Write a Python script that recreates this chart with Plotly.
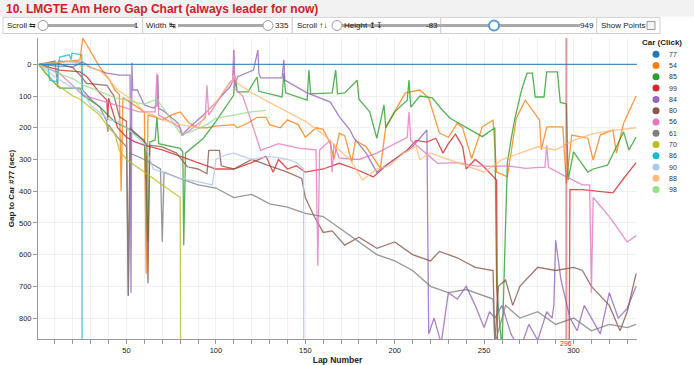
import plotly.graph_objects as go

# ---------------- data ----------------
cars = ["77", "54", "85", "99", "84", "80", "56", "61", "70", "86", "90", "88", "98"]
colors = ["#1f77b4", "#ff7f0e", "#2ca02c", "#d62728", "#9467bd", "#8c564b", "#e377c2",
          "#7f7f7f", "#bcbd22", "#17becf", "#aec7e8", "#ffbb78", "#98df8a"]

laps_77 = [1, 336]
gap_77 = [0, 0]

laps_54 = [1, 10, 20, 24, 25.5, 31, 35, 40.6, 43.5, 46, 47, 48, 55, 60, 61, 62, 65, 70, 75, 80, 85, 90, 95, 100, 110, 112, 118, 123, 128, 130, 136, 140, 146, 150, 156, 160, 164, 166, 169, 172, 176, 178, 184, 189, 192, 195, 200, 206, 214, 219, 225, 230, 235, 238, 243, 249, 255, 257, 263, 268, 273, 281, 282, 285, 294, 296, 299, 308, 311, 315, 322, 324, 328, 335]
gap_54 = [0, -5, -12, -14, -83, -30, 9, 50, 81, 95, 400, 105, 130, 150, 660, 160, 165, 175, 160, 150, 185, 200, 200, 195, 190, 200, 185, 167, 167, 190, 200, 175, 190, 230, 200, 205, 250, 300, 217, 225, 308, 240, 260, 300, 328, 197, 150, 90, 81, 106, 217, 230, 186, 200, 297, 197, 176, 340, 355, 170, 113, 176, 270, 197, 197, 375, 223, 233, 302, 223, 207, 280, 186, 100]

laps_85 = [1, 5, 12.6, 24, 25.5, 35, 43.5, 50, 55, 60, 62, 63, 66, 67, 68, 75, 80, 81.5, 82, 83, 93, 100, 110, 110.5, 112, 118, 123, 124, 137, 138, 139, 151, 152, 153, 165, 167, 168, 172, 179, 180, 186, 190, 194, 195, 200, 207, 208, 209, 214, 221, 226, 231, 240, 249, 256, 257, 260, 263, 265, 267, 271, 274, 277, 278.6, 283.5, 285, 291, 292.6, 296, 297, 300, 303, 308, 311, 319, 328, 331, 335]
gap_85 = [0, 30, 75, 75, 97, 134, 182, 200, 220, 239, 560, 245, 239, 167, 250, 260, 265, 276, 570, 280, 233, 180, 97, 34, 87, 87, 40, 85, 103, 28, 90, 113, 18, 93, 90, 18, 93, 90, 50, 110, 150, 233, 128, 200, 150, 113, 50, 135, 100, 106, 140, 170, 200, 228, 200, 700, 900, 310, 240, 176, 80, 28, 28, 103, 103, 24, 24, 120, 125, 365, 276, 300, 340, 330, 318, 213, 270, 229]

laps_99 = [1, 12.6, 24, 28, 35, 39, 39.5, 40, 45, 50, 55, 60, 70, 80, 90, 95, 100, 110, 120, 128, 132, 135, 140, 145, 150, 160, 169, 178, 188, 195, 207, 212, 218, 223, 227, 230, 234, 238, 240, 245, 249, 257, 258, 297, 298, 305, 315, 322, 328, 335]
gap_99 = [0, 18, 24, 40, 90, 113, 176, 107, 200, 230, 245, 255, 270, 290, 310, 320, 330, 330, 310, 290, 340, 300, 330, 320, 340, 330, 312, 330, 355, 320, 270, 240, 245, 233, 280, 250, 220, 260, 330, 300, 318, 365, 1500, 1500, 395, 395, 400, 405, 360, 310]

laps_84 = [1, 10, 20, 25.5, 30, 39, 46, 52, 52.5, 53, 53.5, 56, 60, 65, 67, 67.5, 68, 70, 79, 81, 85, 93, 100, 108, 109.5, 110, 110.5, 112, 121, 123.5, 124, 125, 137, 138, 138.5, 151, 164, 169, 175, 177, 184, 190, 192, 200, 210, 218, 219, 222, 226, 230, 235, 240, 245, 250, 253, 256, 260, 265, 270, 275, 280, 285, 288, 289, 290, 293, 298, 302, 306, 310, 315, 320, 325, 330, 335]
gap_84 = [0, 5, 8, -7, 10, 28, 34, 34, 720, -5, 81, 81, 128, 138, 130, 34, 140, 144, 186, 223, 200, 160, 120, 70, 50, -45, 73, 40, 18, -45, 28, 43, 43, -14, 50, 90, 119, 165, 207, 230, 280, 340, 330, 300, 260, 207, 850, 800, 880, 720, 740, 700, 760, 830, 780, 800, 760, 850, 900, 820, 870, 780, 800, 760, 554, 680, 800, 840, 760, 800, 850, 720, 800, 770, 700, 780]

laps_80 = [1, 10, 20, 24, 27.7, 33, 39, 43, 46, 50, 51, 52, 59, 61, 62, 63, 70, 78, 84, 90, 95, 96, 102, 103, 110, 120, 130, 140, 148, 150, 155, 160, 165, 172, 180, 190, 200, 210, 220, 225, 235, 245, 255, 256, 258, 262, 266, 270, 280, 290, 300, 305, 310, 315, 320, 326, 330, 335]
gap_80 = [5, -5, 10, 34, 60, 62, 66, 100, 165, 180, 730, 200, 239, 250, 690, 255, 260, 280, 323, 330, 345, 271, 271, 320, 330, 300, 320, 340, 360, 420, 480, 530, 525, 570, 545, 580, 560, 600, 620, 590, 610, 640, 650, 880, 700, 680, 760, 700, 640, 650, 640, 650, 700, 730, 760, 840, 780, 660]

laps_56 = [1, 12.6, 25.5, 33, 45, 57, 66, 67, 68, 80, 81.5, 85, 94, 95, 96, 108, 109.5, 110, 110.5, 115, 118, 125, 135, 147, 156, 157, 158, 164, 165, 166, 169, 180, 190, 200, 207, 208, 209, 224, 235, 245, 256, 263, 273, 281, 284, 285, 286, 296, 305, 309, 310, 311, 320, 330, 335]
gap_56 = [0, 28, 97, 110, 130, 150, 150, 28, 160, 200, 223, 210, 170, 66, 160, 55, 50, -45, 77, 100, 150, 271, 250, 265, 270, 635, 270, 239, 340, 250, 296, 300, 280, 250, 230, 150, 240, 312, 310, 320, 322, 320, 328, 325, 325, 255, 325, 355, 380, 380, 720, 420, 480, 560, 540]

laps_61 = [1, 5, 10, 11.5, 12, 24, 25, 25.5, 30, 35, 39, 39.5, 40, 45, 50, 51, 52, 60, 69, 70, 71, 80, 90, 100, 110, 120, 130, 140, 150, 160, 170, 180, 190, 200, 210, 220, 230, 240, 250, 255, 256, 262, 270, 280, 290, 300, 310, 320, 330, 335]
gap_61 = [0, -5, -10, 71, -10, -7, -7, 81, 110, 134, 181, 213, 190, 230, 260, 730, 280, 300, 330, 560, 340, 360, 380, 390, 420, 410, 440, 450, 470, 480, 520, 560, 600, 620, 650, 700, 720, 710, 730, 740, 880, 760, 800, 780, 820, 800, 840, 820, 830, 820]

laps_70 = [1, 10, 20, 24, 35, 40, 43.5, 46, 50, 55, 60, 65, 70, 75, 80, 81.5, 82]
gap_70 = [0, 60, 100, 110, 160, 200, 220, 271, 300, 320, 340, 360, 380, 400, 420, 3000, 3000]

laps_86 = [1, 6, 7, 11, 12.6, 18, 19, 19.5, 25, 25.5, 26]
gap_86 = [0, 0, 50, 55, -23, -30, -15, -35, -30, 3000, 3000]

laps_90 = [1, 10, 20, 25.5, 30, 40.6, 45, 50, 60, 65, 70, 80, 90, 98, 100, 106, 110, 115, 120, 130, 140, 145, 149, 149.5, 150]
gap_90 = [0, 40, 75, 83, 130, 176, 180, 200, 250, 330, 340, 360, 370, 380, 300, 285, 280, 290, 300, 290, 300, 310, 330, 3000, 3000]

laps_88 = [1, 10, 20, 25.5, 27, 29, 35, 39, 45, 50, 55, 60, 65, 70, 80, 90, 95, 100, 105, 109.5, 110, 112, 120, 130, 140, 150, 160, 169, 175, 182, 190, 197, 205, 212, 214, 220, 230, 240, 250, 260, 270, 280, 290, 300, 310, 320, 335]
gap_88 = [0, -5, -10, 10, 0, 10, 20, 40, 80, 100, 120, 150, 160, 175, 190, 200, 150, 120, 80, 50, 34, 60, 90, 120, 150, 180, 220, 271, 300, 365, 330, 320, 280, 260, 300, 280, 300, 320, 340, 300, 280, 260, 270, 240, 220, 210, 200]

laps_98 = [1, 10, 20, 25.5, 35, 43.5, 50, 55, 60, 67, 72, 80, 84, 91, 95, 100, 110, 120, 128]
gap_98 = [0, 25, 45, 65, 85, 106, 112, 120, 125, 110, 150, 217, 217, 200, 190, 170, 160, 150, 145]

series = {
    "77": (laps_77, gap_77), "54": (laps_54, gap_54), "85": (laps_85, gap_85),
    "99": (laps_99, gap_99), "84": (laps_84, gap_84), "80": (laps_80, gap_80),
    "56": (laps_56, gap_56), "61": (laps_61, gap_61), "70": (laps_70, gap_70),
    "86": (laps_86, gap_86), "90": (laps_90, gap_90), "88": (laps_88, gap_88),
    "98": (laps_98, gap_98),
}

marker_lap = 296
title_text = "10. LMGTE Am Hero Gap Chart (always leader for now)"
x_range = [0.5, 335.5]
y_range = [866, -83]

# ---------------- geometry helpers (pixels -> paper) ----------------
W, H = 694, 365
L, R, T, B = 38, 637, 38, 339


def px(x):
    return (x - L) / (R - L)


def py(y):
    return (B - y) / (B - T)


FONT = "Liberation Sans, Arial, sans-serif"

fig = go.Figure()
draw_order = cars[1:] + ["77"]
for c in draw_order:
    lx, gy = series[c]
    col = colors[cars.index(c)]
    fig.add_trace(go.Scatter(x=lx, y=gy, mode="lines", name=c,
                             line=dict(color=col, width=1.3), opacity=0.8,
                             showlegend=False, hoverinfo="skip"))

shapes = []
annotations = []

# marker line
shapes.append(dict(type="line", xref="x", yref="paper", x0=marker_lap, x1=marker_lap,
                   y0=0, y1=1, line=dict(color="rgba(200,70,70,0.55)", width=2)))
annotations.append(dict(xref="x", yref="paper", x=marker_lap, y=py(343), text=str(marker_lap),
                        showarrow=False, font=dict(family=FONT, size=7, color="#d62728"),
                        xanchor="center", yanchor="middle"))

# top band
shapes.append(dict(type="rect", xref="paper", yref="paper", x0=px(0), x1=px(W), y0=py(0), y1=py(16.5),
                   fillcolor="#f2f2f2", line=dict(width=0), layer="below"))
annotations.append(dict(xref="paper", yref="paper", x=px(4), y=py(8.5), text="<b>" + title_text + "</b>",
                        showarrow=False, xanchor="left", yanchor="middle",
                        font=dict(family=FONT, size=12, color="#d0202a")))

# control bar boxes
box_edges = [3, 142.7, 292.3, 440.7, 596.7, 660]
for i in range(len(box_edges) - 1):
    shapes.append(dict(type="rect", xref="paper", yref="paper", x0=px(box_edges[i]), x1=px(box_edges[i + 1]),
                       y0=py(33.5), y1=py(17.3), fillcolor="white", line=dict(color="#cfcfcf", width=1)))

ctrl_font = dict(family=FONT, size=8, color="#222")
controls = [
    ("Scroll \u21c6", 5, 43, 136, 43, "1", 141),
    ("Width \u21b9", 144, 178, 268, 268, "335", 291),
    ("Scroll \u2191\u2193", 295, 337, 424, 337, "-83", 439.5),
    ("Height \u21a5\u21a7", 342, 388, 580, 494, "949", 595.5),
]
for lab, tx, t0, t1, knob, val, vx in controls:
    annotations.append(dict(xref="paper", yref="paper", x=px(tx), y=py(25.5), text=lab, showarrow=False,
                            xanchor="left", yanchor="middle", font=ctrl_font))
    shapes.append(dict(type="line", xref="paper", yref="paper", x0=px(t0), x1=px(t1), y0=py(25.5), y1=py(25.5),
                       line=dict(color="#a9a9a9", width=3)))
    knob_col = "#5b9bd5" if val == "949" else "#9a9a9a"
    knob_w = 2 if val == "949" else 1
    shapes.append(dict(type="circle", xref="paper", yref="paper", x0=px(knob - 5), x1=px(knob + 5),
                       y0=py(30.5), y1=py(20.5), fillcolor="white", line=dict(color=knob_col, width=knob_w)))
    annotations.append(dict(xref="paper", yref="paper", x=px(vx), y=py(25.5), text=val, showarrow=False,
                            xanchor="right", yanchor="middle", font=ctrl_font))
annotations.append(dict(xref="paper", yref="paper", x=px(599), y=py(25.5), text="Show Points", showarrow=False,
                        xanchor="left", yanchor="middle", font=ctrl_font))
shapes.append(dict(type="rect", xref="paper", yref="paper", x0=px(647), x1=px(655), y0=py(29.5), y1=py(21.5),
                   fillcolor="#f4f4f4", line=dict(color="#9a9a9a", width=1)))

# manual legend
annotations.append(dict(xref="paper", yref="paper", x=px(640), y=py(42.5), text="<b>Car (Click)</b>",
                        showarrow=False, xanchor="left", yanchor="middle",
                        font=dict(family=FONT, size=8, color="#222")))
for i, c in enumerate(cars):
    yy = 54.3 + i * 11.27
    shapes.append(dict(type="circle", xref="paper", yref="paper", x0=px(652.5), x1=px(659.5),
                       y0=py(yy + 3.5), y1=py(yy - 3.5), fillcolor=colors[i], line=dict(width=0)))
    annotations.append(dict(xref="paper", yref="paper", x=px(666.5), y=py(yy), text=c, showarrow=False,
                            xanchor="left", yanchor="middle", font=dict(family=FONT, size=7, color="#333")))

fig.update_layout(
    width=W, height=H,
    margin=dict(l=L, r=W - R, t=T, b=H - B, pad=0, autoexpand=False),
    paper_bgcolor="white", plot_bgcolor="white",
    shapes=shapes, annotations=annotations,
    font=dict(family=FONT, size=7, color="#333"),
    showlegend=False,
    xaxis=dict(range=x_range, tick0=0, dtick=50, ticks="outside", ticklen=4, tickcolor="#999",
               showline=True, linecolor="#999", linewidth=1, showgrid=True, gridcolor="#f0f0f0",
               zeroline=False, automargin=False, tickfont=dict(family=FONT, size=7.5, color="#222"),
               minor=dict(dtick=10, tick0=0, ticks="outside", ticklen=4, tickcolor="#999",
                          showgrid=True, gridcolor="#f0f0f0"),
               title=dict(text="<b>Lap Number</b>", font=dict(family=FONT, size=8.5, color="#222"), standoff=6)),
    yaxis=dict(range=y_range, tick0=0, dtick=100, ticks="outside", ticklen=4, tickcolor="#999",
               showline=True, linecolor="#999", linewidth=1, showgrid=True, gridcolor="#f0f0f0",
               zeroline=False, automargin=False, tickfont=dict(family=FONT, size=7.5, color="#222"),
               title=dict(text="<b>Gap to Car #77 (sec)</b>", font=dict(family=FONT, size=8, color="#222"), standoff=3)),
)

fig.write_html("out.html")
